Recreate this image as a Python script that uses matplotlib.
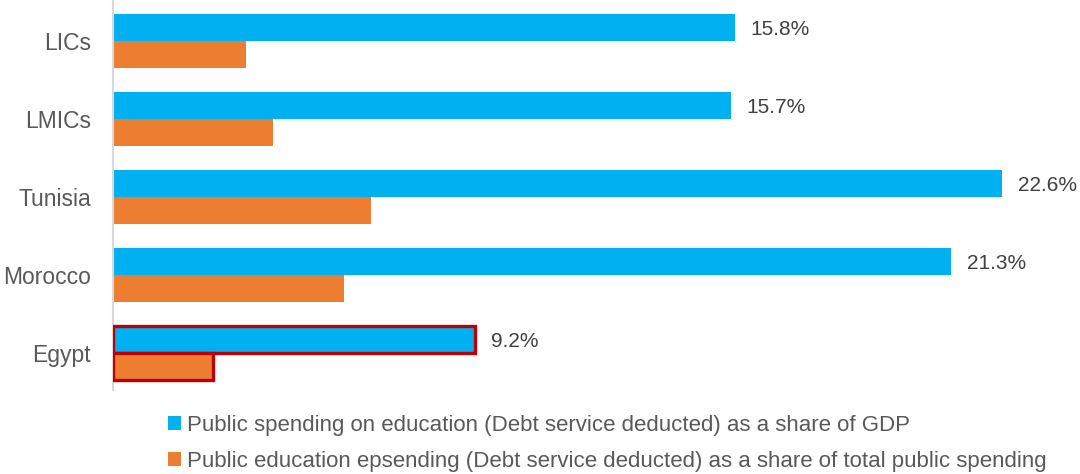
import numpy as np
import matplotlib.pyplot as plt
from matplotlib.patches import Patch

plt.rcParams['font.family'] = ['Liberation Sans', 'DejaVu Sans']

# data
categories = ['LICs', 'LMICs', 'Tunisia', 'Morocco', 'Egypt']
share_gdp = [15.8, 15.7, 22.6, 21.3, 9.2]
share_spending = [3.37, 4.07, 6.56, 5.87, 2.55]
legend_labels = [
    'Public spending on education (Debt service deducted) as a share of GDP',
    'Public education epsending (Debt service deducted) as a share of total public spending',
]

blue = '#00B0F0'
orange = '#ED7D31'
red = '#C00000'

fig = plt.figure(figsize=(10.8, 4.74), dpi=100)
ax = fig.add_axes([113 / 1080, 1 - 390 / 474, (1040 - 113) / 1080, 390 / 474])

y = np.arange(len(categories))
h = 0.346

b1 = ax.barh(y - h / 2, share_gdp, height=h, color=blue, zorder=2)
b2 = ax.barh(y + h / 2, share_spending, height=h, color=orange, zorder=2)

# highlight Egypt
for bar in (b1[-1], b2[-1]):
    bar.set_edgecolor(red)
    bar.set_linewidth(2.4)
    bar.set_zorder(3)

for yi, v in zip(y, share_gdp):
    ax.text(v + 0.4, yi - h / 2 + 0.03, f'{v:.1f}%', va='center', ha='left',
            fontsize=15, color='#404040')

ax.set_xlim(0, (1040 - 113) / 39.34)
ax.set_ylim(4.474, -0.526)
ax.set_yticks(y)
ax.set_yticklabels(categories, fontsize=16.5, color='#595959')
ax.tick_params(axis='y', length=0, pad=16)
ax.set_xticks([])
for s in ['top', 'right', 'bottom']:
    ax.spines[s].set_visible(False)
ax.spines['left'].set_color('#D9D9D9')
ax.spines['left'].set_linewidth(1.5)

handles = [Patch(facecolor=blue), Patch(facecolor=orange)]
leg = fig.legend(handles, legend_labels, loc='upper left',
                 bbox_to_anchor=(157 / 1080, 1 - 404 / 474), frameon=False,
                 fontsize=16, handlelength=0.6, handleheight=0.6,
                 handletextpad=0.25, labelspacing=0.67, borderpad=0)
for t in leg.get_texts():
    t.set_color('#595959')

fig.savefig('out.png', dpi=100)
